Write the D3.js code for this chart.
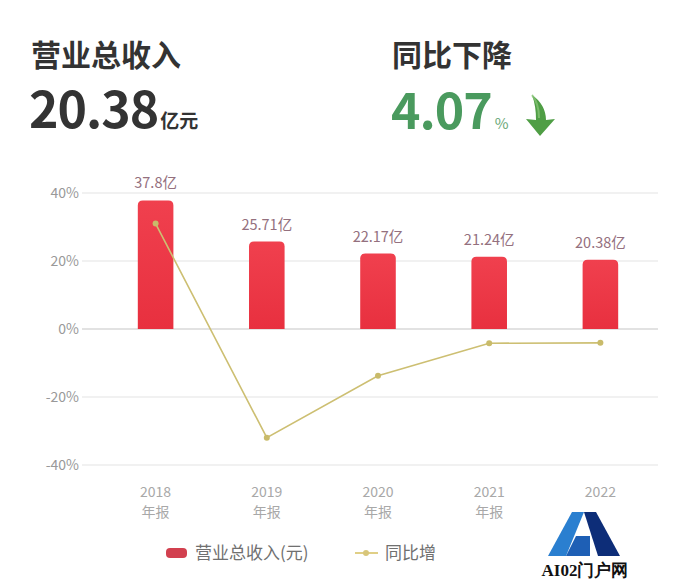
<!DOCTYPE html>
<html><head><meta charset="utf-8">
<script src="https://cdn.jsdelivr.net/npm/d3@7"></script>
<style>body{margin:0;background:#fff}svg{display:block}</style>
</head><body>
<svg id="c" width="686" height="579"></svg>
<script>
const categories = ["2018", "2019", "2020", "2021", "2022"];
const catSub = ["年报", "年报", "年报", "年报", "年报"];
const revenue = [37.8, 25.71, 22.17, 21.24, 20.38];
const revenueLabels = ["37.8亿", "25.71亿", "22.17亿", "21.24亿", "20.38亿"];
const growth = [31, -31.98, -13.77, -4.19, -4.07];
const yTicks = [40, 20, 0, -20, -40];

const svg = d3.select("#c");
const font = "'Noto Sans CJK SC','Noto Sans',sans-serif";

// Header
svg.append("text").attr("x", 31).attr("y", 66).attr("font-family", font).attr("font-weight", 700)
  .attr("font-size", 30).attr("fill", "#333").text("营业总收入");
const big = svg.append("text").attr("x", 29).attr("y", 128).attr("font-family", font).attr("font-weight", 700).attr("fill", "#333");
big.append("tspan").attr("font-size", 50).attr("letter-spacing", -1).text("20.38");
big.append("tspan").attr("font-size", 19).attr("dx", 2).text("亿元");

svg.append("text").attr("x", 392).attr("y", 66).attr("font-family", font).attr("font-weight", 700)
  .attr("font-size", 30).attr("fill", "#333").text("同比下降");
const pct = svg.append("text").attr("x", 391).attr("y", 129).attr("font-family", font).attr("font-weight", 700).attr("fill", "#4a9a5e");
pct.append("tspan").attr("font-size", 50).attr("letter-spacing", -1).text("4.07");
pct.append("tspan").attr("font-size", 15).attr("font-weight", 400).attr("dx", 3).attr("fill", "#6aa878").text("%");
// green arrow (curved, bold)
svg.append("path")
  .attr("d", "M532,95 C541,101 546,110 546,120 L555,119 L540,136 L526,119 L536,120 C536,111 535,103 532,95 Z")
  .attr("fill", "#4f9e45");
svg.append("path")
  .attr("d", "M532,95 C537,101 539,108 539,118")
  .attr("stroke", "#8cc77a").attr("stroke-width", 2).attr("fill", "none").attr("opacity", 0.7);

// Chart
const x = d3.scaleBand().domain(categories).range([100, 656]).paddingInner(0.68).paddingOuter(0.34);
const y = d3.scaleLinear().domain([-40, 40]).range([465, 193]);

const grid = svg.append("g");
grid.selectAll("line").data(yTicks).join("line")
  .attr("x1", 82).attr("x2", 658).attr("y1", d => y(d)).attr("y2", d => y(d))
  .attr("stroke", d => d === 0 ? "#d8d8d8" : "#ececec").attr("stroke-width", 1.5);

const yAxis = d3.axisLeft(y).tickValues(yTicks).tickFormat(d => d + "%").tickSize(0).tickPadding(0);
const ya = svg.append("g").attr("transform", "translate(79,0)").call(yAxis);
ya.select(".domain").remove();
ya.selectAll("text").attr("font-family", font).attr("font-size", 14).attr("fill", "#999");

const defs = svg.append("defs");
const grad = defs.append("linearGradient").attr("id", "bg").attr("x1", 0).attr("x2", 0).attr("y1", 0).attr("y2", 1);
grad.append("stop").attr("offset", 0).attr("stop-color", "#f0404e");
grad.append("stop").attr("offset", 1).attr("stop-color", "#e8303f");

svg.append("g").selectAll("path").data(categories).join("path")
  .attr("d", (c, i) => {
    const x0 = x(c), w = x.bandwidth(), y0 = y(revenue[i]), y1 = y(0), r = 5;
    return `M${x0},${y1} L${x0},${y0 + r} Q${x0},${y0} ${x0 + r},${y0} L${x0 + w - r},${y0} Q${x0 + w},${y0} ${x0 + w},${y0 + r} L${x0 + w},${y1} Z`;
  })
  .attr("fill", "url(#bg)");

svg.append("g").selectAll("text").data(categories).join("text")
  .attr("x", c => x(c) + x.bandwidth() / 2)
  .attr("y", (c, i) => y(revenue[i]) - 12)
  .attr("text-anchor", "middle").attr("font-family", font).attr("font-size", 14.5)
  .attr("fill", "#94707e").text((c, i) => revenueLabels[i]);

const line = d3.line().x((d, i) => x(categories[i]) + x.bandwidth() / 2).y(d => y(d));
svg.append("path").datum(growth).attr("d", line).attr("fill", "none")
  .attr("stroke", "#cdbf72").attr("stroke-width", 1.6);
svg.append("g").selectAll("circle").data(growth).join("circle")
  .attr("cx", (d, i) => x(categories[i]) + x.bandwidth() / 2).attr("cy", d => y(d)).attr("r", 3)
  .attr("fill", "#c9bb6a");

const xl = svg.append("g");
xl.selectAll("text.a").data(categories).join("text").attr("class", "a")
  .attr("x", c => x(c) + x.bandwidth() / 2).attr("y", 497).attr("text-anchor", "middle")
  .attr("font-family", font).attr("font-size", 14).attr("fill", "#a8a8a8").text(c => c);
xl.selectAll("text.b").data(catSub).join("text").attr("class", "b")
  .attr("x", (d, i) => x(categories[i]) + x.bandwidth() / 2).attr("y", 517).attr("text-anchor", "middle")
  .attr("font-family", font).attr("font-size", 14).attr("fill", "#a8a8a8").text(d => d);

// Legend
svg.append("rect").attr("x", 166).attr("y", 548).attr("width", 21).attr("height", 10).attr("rx", 4).attr("fill", "#d2404f");
svg.append("text").attr("x", 195).attr("y", 559).attr("font-family", font).attr("font-size", 17).attr("fill", "#707070").text("营业总收入(元)");
svg.append("line").attr("x1", 355).attr("x2", 378).attr("y1", 553).attr("y2", 553).attr("stroke", "#e0cf86").attr("stroke-width", 2);
svg.append("circle").attr("cx", 366).attr("cy", 553).attr("r", 3).attr("fill", "#d8c67a");
svg.append("text").attr("x", 385).attr("y", 559).attr("font-family", font).attr("font-size", 17).attr("fill", "#707070").text("同比增");

// Watermark
svg.append("rect").attr("x", 530).attr("y", 504).attr("width", 112).attr("height", 75).attr("fill", "#fff");
svg.append("path").attr("d", "M548,556 L572,512 L584,512 L566,556 Z").attr("fill", "#2a7fd0");
svg.append("path").attr("d", "M584,512 L596,512 L620,556 L598,556 Z").attr("fill", "#0d2d78");
svg.append("path").attr("d", "M566,556 L576,536 L590,536 L590,556 Z").attr("fill", "#1e5fb5");
svg.append("text").attr("x", 585).attr("y", 576).attr("text-anchor", "middle").attr("font-family", "'Liberation Serif',serif")
  .attr("font-size", 17).attr("font-weight", 700).attr("fill", "#111").text("AI02门户网");
</script>
</body></html>
